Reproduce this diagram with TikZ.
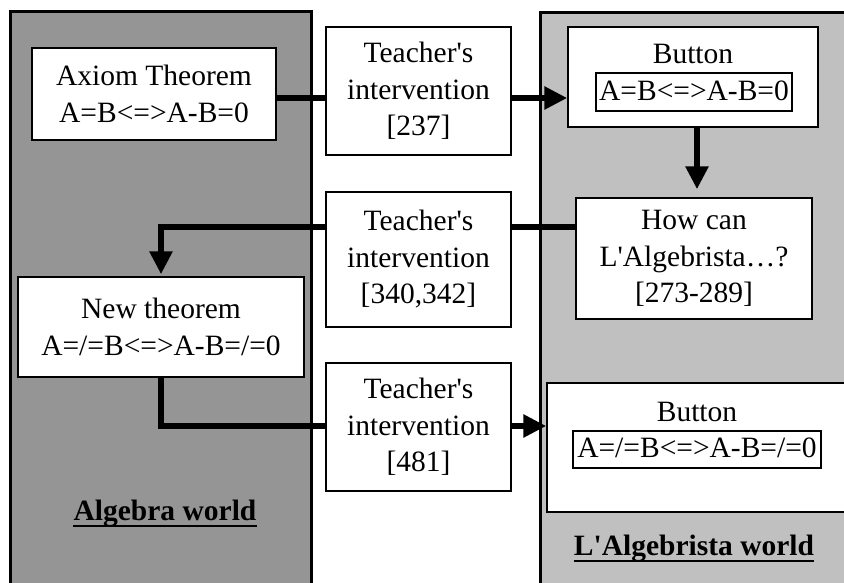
\documentclass[tikz,border=0pt]{standalone}
\usepackage{fontspec}
\setmainfont{Liberation Serif}
\usetikzlibrary{arrows.meta}
\definecolor{algdark}{gray}{0.585}
\definecolor{alglight}{gray}{0.753}
\pgfdeclarelayer{bg}
\pgfdeclarelayer{lines}
\pgfsetlayers{bg,lines,main}
\newcommand{\ap}{\textquotesingle}
\tikzset{
  txt/.style={font=\fontsize{29.5}{36.5}\selectfont},
  box/.style={draw, line width=1.5pt, fill=white, inner sep=0pt, align=center, txt},
  eqbox/.style={draw, line width=2pt, fill=white, inner sep=0pt, txt, anchor=base},
  lbl/.style={inner sep=0pt, txt, anchor=base},
  conn/.style={line width=6pt, line join=miter},
  tip/.style={-{Triangle[length=23pt,width=22pt]}},
  panel/.style={draw, line width=3pt},
  world/.style={font=\fontsize{29.5}{36.5}\selectfont\bfseries, inner sep=0pt, anchor=base},
  uline/.style={line width=2pt},
}
\begin{document}
\begin{tikzpicture}[x=1pt,y=-1pt]
\useasboundingbox (0,0) rectangle (844,582);
\clip (0,0) rectangle (844,582);
\begin{pgfonlayer}{bg}
  \fill[white] (0,0) rectangle (844,582);
  \path[panel, fill=algdark] (10.5,11.5) rectangle (311,600);
  \path[panel, fill=alglight] (540.5,12.5) rectangle (870,600);
\end{pgfonlayer}

% left world
\node[box, minimum width=244pt, minimum height=92pt] (ax) at (154,94) {Axiom Theorem\\A=B<=>A-B=0};
\node[box, minimum width=286pt, minimum height=100pt] (new) at (161,327) {New theorem\\A=/=B<=>A-B=/=0};
\node[world] (algw) at (165,520) {Algebra world};
\draw[uline] ([yshift=-5.5pt]algw.base west) -- ([yshift=-5.5pt]algw.base east);

% teacher interventions
\node[box, minimum width=185pt, minimum height=128pt] (t1) at (418.5,91) {Teacher\ap s\\intervention\\{}[237]};
\node[box, minimum width=185pt, minimum height=135pt] (t2) at (418.5,259.5) {Teacher\ap s\\intervention\\{}[340,342]};
\node[box, minimum width=185pt, minimum height=128pt] (t3) at (418.5,427) {Teacher\ap s\\intervention\\{}[481]};

% L'Algebrista world
\node[box, minimum width=250pt, minimum height=100pt] (btn1) at (693,77) {};
\node[lbl] (btn1l) at (693,63) {Button};
\node[eqbox, minimum width=196pt, text height=27pt, text depth=11pt] (eq1) at (694,100) {A=B<=>A-B=0};
\node[box, minimum width=236pt, minimum height=121pt] (how) at (694,258.5) {How can\\L\ap Algebrista…?\\{}[273-289]};
\node[box, minimum width=323pt, minimum height=129pt] (btn2) at (708.5,447.5) {};
\node[lbl] (btn2l) at (697,421) {Button};
\node[eqbox, minimum width=248pt, text height=26pt, text depth=11pt] (eq2) at (697,457) {A=/=B<=>A-B=/=0};
\node[world] (lalgw) at (694,555) {L\ap Algebrista world};
\draw[uline] ([yshift=-5.5pt]lalgw.base west) -- ([yshift=-5.5pt]lalgw.base east);

% connectors
\begin{pgfonlayer}{lines}
  \draw[conn, tip] (ax.east |- 0,98) -- (btn1.west |- 0,98);
  \draw[conn, tip, shorten >=8pt] (btn1.south -| 697,0) -- (how.north -| 697,0);
  \draw[conn, tip, shorten >=2pt] (how.west |- 0,227) -| (new.north);
  \draw[conn, tip] (new.south) |- (btn2.west |- 0,426);
\end{pgfonlayer}
\end{tikzpicture}
\end{document}
